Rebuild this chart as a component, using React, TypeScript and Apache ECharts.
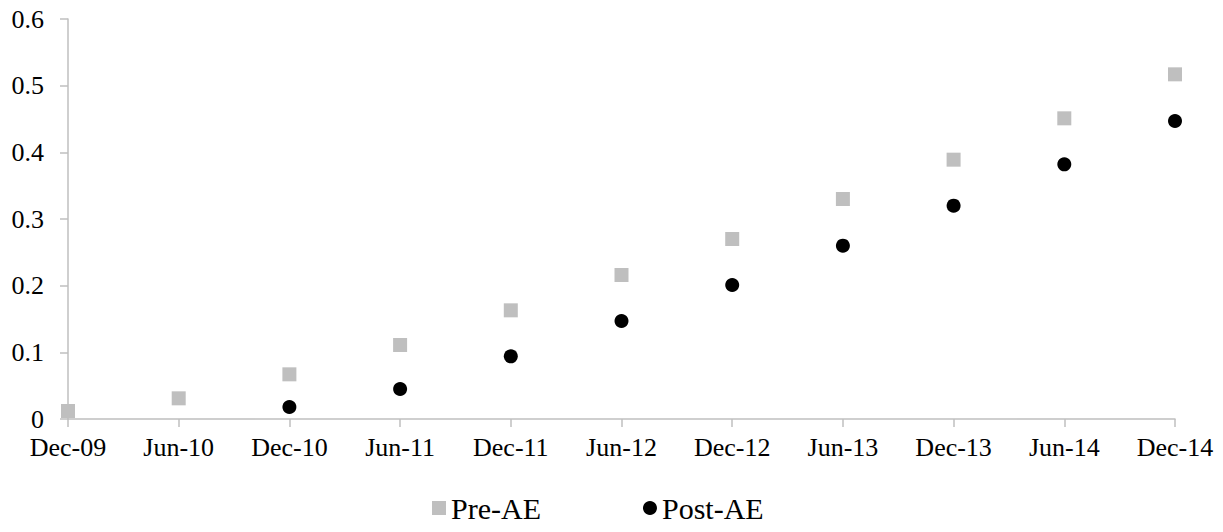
import React, { useEffect, useRef } from "react";
import * as echarts from "echarts";

const categories = ["Dec-09", "Jun-10", "Dec-10", "Jun-11", "Dec-11", "Jun-12", "Dec-12", "Jun-13", "Dec-13", "Jun-14", "Dec-14"];
const preAE = [0.012, 0.031, 0.067, 0.111, 0.163, 0.216, 0.27, 0.33, 0.389, 0.451, 0.517];
const postAE: (number | null)[] = [null, null, 0.018, 0.045, 0.094, 0.147, 0.201, 0.26, 0.32, 0.382, 0.447];
const yTicks = { min: 0, max: 0.6, interval: 0.1 };

const FONT = "'Liberation Serif', 'Times New Roman', serif";
const AXIS = "#bfbfbf";

export default function App() {
  const ref = useRef<HTMLDivElement>(null);
  useEffect(() => {
    if (!ref.current) return;
    const chart = echarts.init(ref.current, null, { renderer: "svg" });
    chart.setOption({
      animation: false,
      grid: { left: 68, right: 48, top: 19, bottom: 113, containLabel: false },
      legend: {
        bottom: 4,
        left: 427,
        itemWidth: 14,
        itemHeight: 14,
        itemGap: 102,
        textStyle: { fontFamily: FONT, fontSize: 30, color: "#000" },
        data: [
          { name: "Pre-AE", icon: "rect" },
          { name: "Post-AE", icon: "circle" },
        ],
      },
      xAxis: {
        type: "category",
        data: categories,
        boundaryGap: false,
        axisLine: { lineStyle: { color: AXIS, width: 1.5 } },
        axisTick: { show: true, length: 8, alignWithLabel: true, lineStyle: { color: AXIS, width: 1.5 } },
        axisLabel: { color: "#000", fontFamily: FONT, fontSize: 26, lineHeight: 26, margin: 15 },
        splitLine: { show: false },
      },
      yAxis: {
        type: "value",
        min: yTicks.min,
        max: yTicks.max,
        interval: yTicks.interval,
        axisLine: { show: true, lineStyle: { color: AXIS, width: 1.5 } },
        axisTick: { show: true, length: 8, lineStyle: { color: AXIS, width: 1.5 } },
        axisLabel: { color: "#000", fontFamily: FONT, fontSize: 26, lineHeight: 26, margin: 24 },
        splitLine: { show: false },
      },
      series: [
        {
          name: "Pre-AE",
          type: "scatter",
          symbol: "rect",
          symbolSize: 14,
          itemStyle: { color: "#bfbfbf", opacity: 1 },
          data: preAE,
        },
        {
          name: "Post-AE",
          type: "scatter",
          symbol: "circle",
          symbolSize: 14,
          itemStyle: { color: "#000000", opacity: 1 },
          data: postAE,
        },
      ],
    });
    return () => chart.dispose();
  }, []);
  return <div ref={ref} style={{ width: 1223, height: 532, position: "absolute", left: 0, top: 0 }} />;
}
